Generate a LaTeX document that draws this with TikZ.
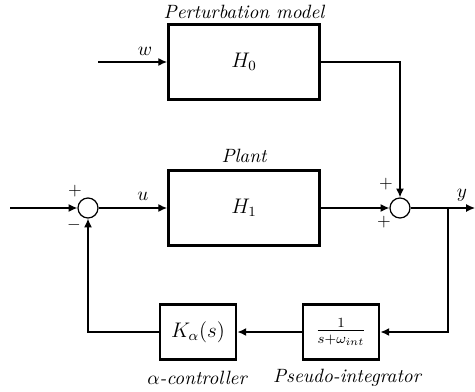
\documentclass[tikz,border=0pt,11pt]{standalone}
\usepackage{amsmath}
\usepackage{tikz}
\usetikzlibrary{arrows.meta,positioning,calc}
\tikzset{blk/.style={draw, line width=1.6pt, minimum width=3.02cm, minimum height=1.5cm, font=\large},
         sblk/.style={draw, line width=1.6pt, minimum width=1.52cm, minimum height=1.1cm, font=\large},
         sumnode/.style={draw, circle, line width=0.7pt, minimum size=0.4cm, inner sep=0pt},
         blkcap/.style={font=\itshape},
         sgn/.style={font=\small},
         arr/.style={-{Latex[length=5pt, width=4.5pt]}, line width=0.75pt}}

\begin{document}
\begin{tikzpicture}[x=0.02cm, y=-0.02cm]
\useasboundingbox (0,0) rectangle (475,391);
\node[blk] (h0) at (244,62) {$H_0$};
\node[blk] (h1) at (244,208) {$H_1$};
\node[sumnode] (sl) at (88,208) {};
\node[sumnode] (sr) at (400,208) {};
\node[sblk] (pi) at (341,332) {$\frac{1}{s+\omega_{int}}$};
\node[sblk] (k) at (198,332) {$K_\alpha(s)$};
\coordinate (in) at (10,208);
\coordinate (win) at (98,62);
\coordinate (br) at (448,208);
\coordinate (out) at (475,208);
\node[blkcap] (pm) at (244,12) {Perturbation model};
\node[blkcap] (pl) at (244,156) {Plant};
\node[blkcap] (kc) at (197,378) {$\alpha$-controller};
\node[blkcap] (pc) at (347,378) {Pseudo-integrator};
\draw[arr] (win) -- (h0); \draw[arr] (in) -- (sl); \draw[arr] (sl) -- (h1); \draw[arr] (h1) -- (sr);
\draw[arr] (h0.east) -| (sr); \draw[arr] (sr) -- (out);
\draw[arr] (br) |- (pi); \draw[arr] (pi) -- (k); \draw[arr] (k) -| (sl);
\node (w) at (145,51) {$w$};
\node (u) at (143,196) {$u$};
\node (y) at (462,195) {$y$};
\node[sgn] (p1) at (75,191) {$+$};
\node[sgn] (m1) at (74,225) {$-$};
\node[sgn] (p2) at (386,184) {$+$};
\node[sgn] (p3) at (384,222) {$+$};
\end{tikzpicture}
\end{document}
